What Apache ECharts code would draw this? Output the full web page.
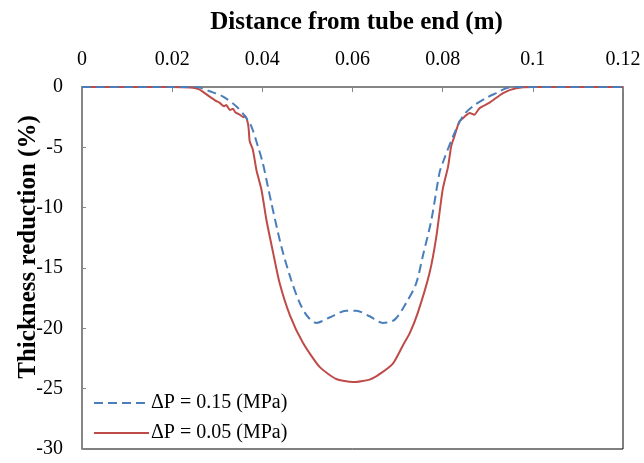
<!DOCTYPE html>
<html>
<head>
<meta charset="utf-8">
<script src="https://cdn.jsdelivr.net/npm/echarts@6/dist/echarts.min.js"></script>
<style>html,body{margin:0;padding:0;background:#fff}#c{width:644px;height:463px}</style>
</head>
<body>
<div id="c"></div>
<script>
const seriesNames = ['ΔP = 0.15 (MPa)', 'ΔP = 0.05 (MPa)'];
const xTicks = [0, 0.02, 0.04, 0.06, 0.08, 0.1, 0.12];
const yTicks = [0, -5, -10, -15, -20, -25, -30];

const xBlue = [0, 0.02, 0.0254, 0.0283, 0.0313, 0.0342, 0.0361, 0.0376, 0.039, 0.0401, 0.0412, 0.042, 0.0442, 0.0464, 0.0483, 0.050, 0.052, 0.0549, 0.0586, 0.0608, 0.0638, 0.0667, 0.0693, 0.0719, 0.0741, 0.0756, 0.0775, 0.0793, 0.08, 0.0823, 0.0845, 0.0867, 0.0897, 0.0919, 0.0941, 0.097, 0.12];
const yBlue = [0, 0, 0, -0.35, -0.8, -1.6, -2.4, -3.3, -4.9, -6.3, -8.2, -9.6, -13.2, -16.0, -17.9, -19.0, -19.55, -19.1, -18.55, -18.55, -19.0, -19.55, -19.3, -17.9, -16.3, -14.0, -11.0, -7.1, -6.3, -4.1, -2.4, -1.6, -0.9, -0.5, -0.1, 0, 0];

const xRed = [0, 0.01, 0.02, 0.024, 0.026, 0.0283, 0.0295, 0.0305, 0.0315, 0.032, 0.0328, 0.0335, 0.034, 0.035, 0.0358, 0.0362, 0.0368, 0.037, 0.0372, 0.0379, 0.0387, 0.0398, 0.0409, 0.0424, 0.0438, 0.0461, 0.049, 0.0527, 0.0564, 0.0601, 0.0638, 0.066, 0.069, 0.0712, 0.0727, 0.0745, 0.0771, 0.0786, 0.08, 0.0812, 0.0819, 0.0826, 0.0837, 0.0845, 0.085, 0.086, 0.087, 0.0882, 0.0904, 0.0934, 0.0963, 0.1, 0.11, 0.12];
const yRed = [0, 0, 0, -0.05, -0.2, -0.8, -1.1, -1.3, -1.6, -1.5, -1.9, -1.8, -2.1, -2.3, -2.5, -2.4, -3.0, -3.6, -4.5, -5.2, -6.9, -8.5, -11.0, -13.75, -16.2, -18.9, -21.2, -23.2, -24.2, -24.45, -24.25, -23.8, -22.9, -21.4, -20.4, -18.7, -15.4, -12.4, -8.5, -6.6, -4.9, -4.1, -2.85, -2.6, -2.4, -2.15, -2.3, -1.75, -1.3, -0.5, -0.1, 0, 0, 0];

const zip = (xs, ys) => xs.map((x, i) => [x, ys[i]]);
const font = '"Liberation Serif", "Times New Roman", serif';

const chart = echarts.init(document.getElementById('c'));
chart.setOption({
  animation: false,
  backgroundColor: '#fff',
  grid: { left: 82, right: 21, top: 87, bottom: 14, containLabel: false, outerBoundsMode: 'none',
          show: true, borderColor: '#000', borderWidth: 1 },
  xAxis: {
    type: 'value', position: 'top',
    min: xTicks[0], max: xTicks[xTicks.length - 1], interval: 0.02,
    name: 'Distance from tube end (m)', nameLocation: 'middle', nameGap: 52, nameMoveOverlap: false,
    nameTextStyle: { fontFamily: font, fontSize: 25, fontWeight: 'bold', color: '#000', padding: [0, 0, 0, 8] },
    axisLine: { lineStyle: { color: '#868686', width: 2 } },
    axisTick: { inside: true, length: 5, lineStyle: { color: '#868686', width: 1 } },
    axisLabel: { fontFamily: font, fontSize: 20, color: '#000', margin: 17, formatter: v => String(+v.toFixed(2)) },
    splitLine: { show: false }
  },
  yAxis: {
    type: 'value',
    min: yTicks[yTicks.length - 1], max: yTicks[0], interval: 5,
    name: 'Thickness reduction (%)', nameLocation: 'middle', nameGap: 41, nameRotate: 90, nameMoveOverlap: false,
    nameTextStyle: { fontFamily: font, fontSize: 25, fontWeight: 'bold', color: '#000', padding: [0, 0, 0, 42] },
    axisLine: { show: true, lineStyle: { color: '#868686', width: 2 } },
    axisTick: { show: true, inside: true, length: 4, lineStyle: { color: '#868686', width: 1 } },
    axisLabel: { fontFamily: font, fontSize: 20, color: '#000', margin: 19 },
    splitLine: { show: false }
  },
  legend: {
    orient: 'vertical', left: 88, top: 388, itemGap: 10,
    itemWidth: 55, itemHeight: 14,
    itemStyle: { opacity: 0 },
    textStyle: { fontFamily: font, fontSize: 20, color: '#000', padding: [0, 0, 0, -3] },
    data: seriesNames
  },
  series: [
    { name: seriesNames[0], type: 'line', data: zip(xBlue, yBlue), symbol: 'none', smooth: 0.3, z: 3,
      lineStyle: { color: '#4a7ebb', width: 2, type: [9, 5] }, itemStyle: { color: '#4a7ebb' } },
    { name: seriesNames[1], type: 'line', data: zip(xRed, yRed), symbol: 'none', smooth: 0.2, z: 2,
      lineStyle: { color: '#be4b48', width: 2 }, itemStyle: { color: '#be4b48' } }
  ]
});
</script>
</body>
</html>
